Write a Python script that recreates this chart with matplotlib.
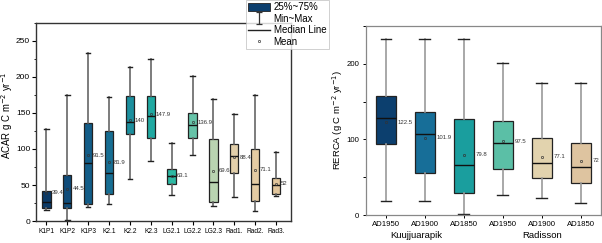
import matplotlib
matplotlib.use("Agg")
from matplotlib import pyplot as plt
from matplotlib.patches import Patch
from matplotlib.lines import Line2D
from matplotlib.path import Path
from matplotlib.ticker import MultipleLocator

plt.rcParams['font.family'] = ['Liberation Sans', 'DejaVu Sans']

# left panel: ACAR per core
cores = ["K1P1", "K1P2", "K1P3", "K2.1", "K2.2", "K2.3", "LG2.1", "LG2.2",
         "LG2.3", "Rad1.", "Rad2.", "Rad3."]
acar_min = [15, 1, 19, 23, 59, 84, 36, 91, 21, 34, 14, 35]
acar_q1 = [18.5, 18.5, 23.5, 37, 121.5, 115, 52, 115.5, 27, 67, 28, 38]
acar_med = [27, 25, 81, 67, 138, 146, 63, 133, 54.5, 90, 52, 50]
acar_q3 = [41.5, 64, 136, 125, 174, 173, 72.5, 150.5, 114.5, 107.5, 100.5, 59.5]
acar_max = [128, 175.5, 233, 172, 214, 225.5, 109, 201, 169, 148, 174.5, 96]
acar_mean = [39.4, 44.5, 91.5, 81.9, 140, 147.9, 63.1, 136.9, 69.6, 88.4, 71.1, 52]
acar_colors = ["#0c3a66", "#0f4c7a", "#135d88", "#176e93", "#1c8f9e", "#20a9a2",
               "#2db8a3", "#66c3a8", "#b9d4b1", "#e2cfaa", "#e4cba3", "#e2c69c"]

# right panel: RERCA per period
periods = ["AD1950", "AD1900", "AD1850", "AD1950", "AD1900", "AD1850"]
rerca_min = [19, 19, 1.3, 27, 22, 15.5]
rerca_q1 = [93.5, 55, 29.5, 60.5, 49, 43]
rerca_med = [128, 107, 66, 95, 69, 63]
rerca_q3 = [157.5, 136.5, 127.5, 125, 102.5, 95]
rerca_max = [232.5, 232.5, 232.5, 201, 175, 175]
rerca_mean = [122.5, 101.9, 79.8, 97.5, 77.1, 72]
rerca_colors = ["#0c3f6e", "#176e98", "#1a9e9e", "#5bbfa6", "#e2d3ae", "#dec4a0"]
sites = ["Kuujjuarapik", "Radisson"]
site_pos = [0.77, 4.0]


def draw(ax, lo, q1, med, q3, hi, mean, colors, width, wcolor):
    stats = [dict(whislo=a, q1=b, med=c, q3=d, whishi=e, mean=m, fliers=[])
             for a, b, c, d, e, m in zip(lo, q1, med, q3, hi, mean)]
    pos = list(range(len(stats)))
    bp = ax.bxp(stats, positions=pos, widths=width, patch_artist=True,
                showmeans=True, showfliers=False,
                boxprops=dict(edgecolor="#222222", linewidth=0.9),
                medianprops=dict(color="#111111", linewidth=1.0),
                whiskerprops=dict(color=wcolor, linewidth=1.2),
                capprops=dict(color="#222222", linewidth=1.0),
                capwidths=width * 0.55,
                meanprops=dict(marker="s", markersize=1.3, markerfacecolor="none",
                               markeredgecolor="#333333", markeredgewidth=0.5))
    for patch, c in zip(bp["boxes"], colors):
        patch.set_facecolor(c)
    for p, m in zip(pos, mean):
        ax.text(p + width / 2 + 0.04, m, f"{m:g}", fontsize=4.3,
                color="#333333", va="center", ha="left")


fig = plt.figure(figsize=(6.02, 2.43), dpi=100)

ax1 = fig.add_axes([0.0605, 0.0905, 0.4229, 0.815])
draw(ax1, acar_min, acar_q1, acar_med, acar_q3, acar_max, acar_mean,
     acar_colors, 0.4, "#666666")
ax1.set_xlim(-0.48, 11.72)
ax1.set_ylim(0, 275)
ax1.set_xticks(range(len(cores)))
ax1.set_xticklabels(cores, fontsize=4.8)
ax1.yaxis.set_major_locator(MultipleLocator(50))
ax1.yaxis.set_minor_locator(MultipleLocator(25))
ax1.tick_params(axis="y", labelsize=6, length=3, width=0.8, pad=1.5)
ax1.tick_params(axis="y", which="minor", length=1.8, width=0.6)
ax1.tick_params(axis="x", length=3, width=0.8, pad=2)
ax1.set_ylabel("ACAR g C m$^{-2}$ yr$^{-1}$", fontsize=6.9)
ax1.yaxis.set_label_coords(-0.083, 0.535)
for s in ax1.spines.values():
    s.set_color("#333333")
    s.set_linewidth(1.0)

ax2 = fig.add_axes([0.6075, 0.115, 0.391, 0.778])
draw(ax2, rerca_min, rerca_q1, rerca_med, rerca_q3, rerca_max, rerca_mean,
     rerca_colors, 0.51, "#999999")
ax2.set_xlim(-0.52, 5.52)
ax2.set_ylim(0, 250)
ax2.set_xticks(range(len(periods)))
ax2.set_xticklabels(periods, fontsize=5.6)
ax2.yaxis.set_major_locator(MultipleLocator(100))
ax2.yaxis.set_minor_locator(MultipleLocator(50))
ax2.tick_params(axis="y", which="both", labelsize=5.6, length=2.5, width=0.7, pad=2)
ax2.tick_params(axis="x", length=2.5, width=0.7, pad=2)
ax2.set_ylabel("RERCA (g C m$^{-2}$ yr$^{-1}$)", fontsize=6.8)
ax2.yaxis.set_label_coords(-0.09, 0.5)
for s in ax2.spines.values():
    s.set_color("#888888")
    s.set_linewidth(0.9)
for name, p in zip(sites, site_pos):
    ax2.text(p, -0.082, name, transform=ax2.get_xaxis_transform(),
             ha="center", va="top", fontsize=6.8)

ibar = Path([(-0.5, 1), (0.5, 1), (0, 1), (0, -1), (-0.5, -1), (0.5, -1)],
            [Path.MOVETO, Path.LINETO, Path.MOVETO, Path.LINETO,
             Path.MOVETO, Path.LINETO])
handles = [Patch(facecolor="#0c3f6e", edgecolor="#222222", linewidth=0.6),
           Line2D([], [], color="#333333", marker=ibar, markersize=9,
                  markeredgewidth=0.9, linestyle="none"),
           Line2D([], [], color="#222222", linewidth=1.0),
           Line2D([], [], color="#333333", marker="s", markersize=1.3,
                  markerfacecolor="none", markeredgewidth=0.5, linestyle="none")]
labels = ["25%~75%", "Min~Max", "Median Line", "Mean"]
leg = fig.legend(handles, labels, loc="upper left",
                 bbox_to_anchor=(246 / 602, 1.0), fontsize=7, frameon=True,
                 fancybox=False, borderpad=0.25, labelspacing=0.15,
                 handlelength=2.2, handleheight=0.9, handletextpad=0.4,
                 borderaxespad=0)
leg.get_frame().set_edgecolor("#bbbbbb")
leg.get_frame().set_linewidth(0.6)

fig.savefig("out.png", dpi=100)
